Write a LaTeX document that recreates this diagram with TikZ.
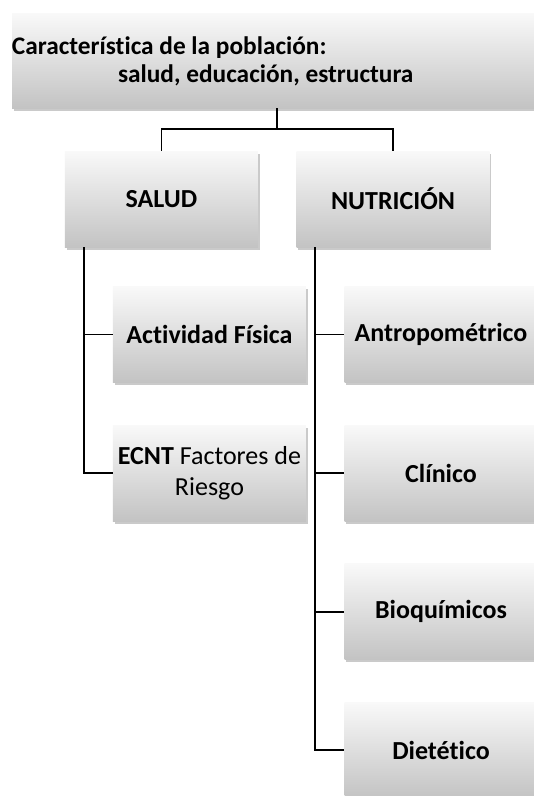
\documentclass[tikz,border=0pt]{standalone}
\usepackage{fontspec}
\setmainfont{Carlito}[Ligatures=NoCommon]
\usepackage{xcolor}
\usepackage{tikz}
\usetikzlibrary{
    positioning,
    calc,
    shadows
}
\definecolor{boxtop}{HTML}{F9F9F9}
\definecolor{boxbottom}{HTML}{C3C3C3}
\definecolor{boxshadow}{HTML}{8A8A8A}
\tikzset{
    % Shaded category box
    catbox/.style={
        rectangle,
        top color=boxtop,
        bottom color=boxbottom,
        draw=none,
        drop shadow={shadow xshift=1.2pt, shadow yshift=-2pt, fill=boxshadow, opacity=0.45},
        font=\fontsize{19.5}{23}\selectfont\bfseries,
        minimum width=144.75pt,
        minimum height=72pt,
        align=center,
        inner sep=1pt
    },
    % Header text line
    headtext/.style={
        font=\fontsize{19}{23}\selectfont\bfseries,
        inner sep=0pt
    },
    % Tree connector
    treeline/.style={
        line width=1.4pt,
        color=black
    }
}

\begin{document}
\begin{tikzpicture}
    \clip (0,0) rectangle (400.5pt,-597pt);
    \fill[white] (0,0) rectangle (400.5pt,-597pt);

    \node[catbox, minimum width=397.5pt, minimum height=71.25pt] (pob) at (207.75pt,-45.4pt) {};
    \node[headtext, anchor=base west] (pob-l1) at ([yshift=-31.5pt]pob.north west) {Característica de la población:};
    \node[headtext, anchor=base west] (pob-l2) at ([xshift=79.5pt, yshift=-52.5pt]pob.north west) {salud, educación, estructura};

    \node[catbox] (salud) at (121.1pt,-149.25pt) {SALUD};
    \node[catbox] (nutr) at (294.75pt,-149.25pt) {NUTRICIÓN};

    \node[catbox, below right=29.25pt and 36pt of salud.south west] (salud-act) {Actividad Física};
    \node[catbox, below=31.5pt of salud-act, font=\fontsize{19.5}{23}\selectfont] (salud-ecnt) {\textbf{ECNT} Factores de\\Riesgo};

    \node[catbox, below right=29.25pt and 36pt of nutr.south west] (nutr-antro) {Antropométrico};
    \node[catbox, below=31.5pt of nutr-antro] (nutr-clin) {Clínico};
    \node[catbox, below=31.5pt of nutr-clin] (nutr-bioq) {Bioquímicos};
    \node[catbox, below=31.5pt of nutr-bioq] (nutr-diet) {Dietético};

    \draw[treeline] (pob.south) -- ++(0,-15.75pt) coordinate (split) -| (salud.north);
    \draw[treeline] (split) -| (nutr.north);

    \coordinate (salud-trunk) at ([xshift=14.25pt]salud.south west);
    \draw[treeline] (salud-trunk) |- (salud-act.west);
    \draw[treeline] (salud-trunk) |- (salud-ecnt.west);

    \coordinate (nutr-trunk) at ([xshift=14.25pt]nutr.south west);
    \foreach \leaf in {antro,clin,bioq,diet}
        \draw[treeline] (nutr-trunk) |- (nutr-\leaf.west);
\end{tikzpicture}
\end{document}
